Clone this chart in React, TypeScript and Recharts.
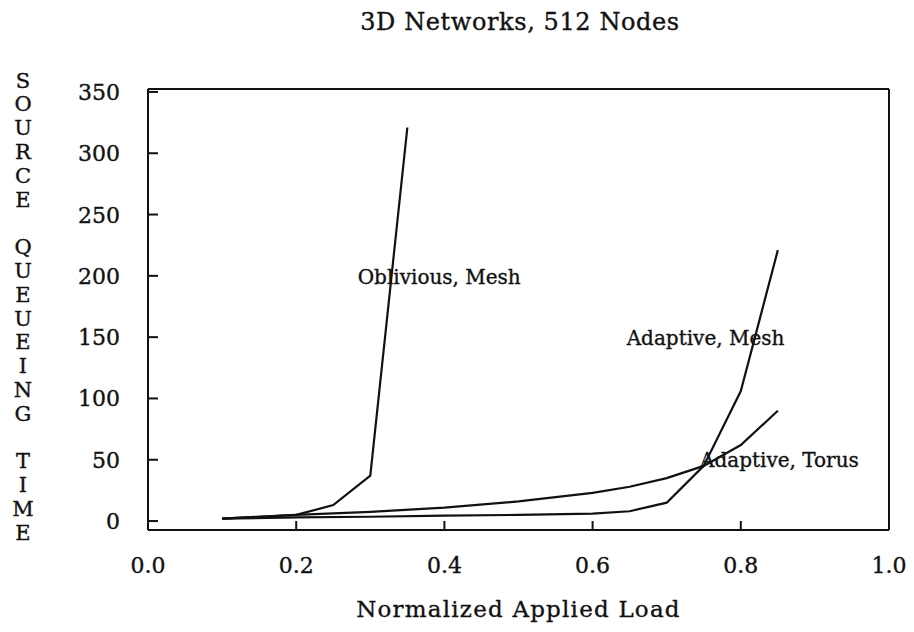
import React from 'react';
import { LineChart, Line, XAxis, YAxis, ReferenceDot } from 'recharts';

// ---- data ----
const oblivMeshLoad = [0.1, 0.2, 0.25, 0.3, 0.35];
const oblivMeshTime = [2, 5, 13, 37, 321];

const adaptMeshLoad = [0.1, 0.2, 0.3, 0.4, 0.5, 0.6, 0.65, 0.7, 0.75, 0.8, 0.85];
const adaptMeshTime = [2, 3, 3.5, 4.5, 5, 6, 8, 15, 45, 106, 221];

const adaptTorusLoad = [0.1, 0.2, 0.3, 0.4, 0.5, 0.6, 0.65, 0.7, 0.75, 0.8, 0.85];
const adaptTorusTime = [2, 5, 7.5, 11, 16, 23, 28, 35, 45, 62, 90];

const xTicks = [0, 0.2, 0.4, 0.6, 0.8, 1.0];
const yTicks = [0, 50, 100, 150, 200, 250, 300, 350];

const annotationText = ['Oblivious, Mesh', 'Adaptive, Mesh', 'Adaptive, Torus'];
const annotationLoad = [0.283, 0.646, 0.745];
const annotationTime = [199, 149, 49.5];

const titleText = '3D Networks, 512 Nodes';
const xLabelText = 'Normalized Applied Load';
const yLabelLines = ['S', 'O', 'U', 'R', 'C', 'E', '', 'Q', 'U', 'E', 'U', 'E', 'I', 'N', 'G', '', 'T', 'I', 'M', 'E'];

const toRows = (xs: number[], ys: number[]) => xs.map((x, i) => ({ load: x, time: ys[i] }));

const FONT = '"DejaVu Serif", "Liberation Serif", serif';
const INK = '#111';
const TXT = { fontFamily: FONT, fill: INK, stroke: INK, strokeWidth: 0.35 } as const;

const YTick = (props: any) => {
  const { x, y, payload } = props;
  return (
    <g>
      <line x1={x} x2={x + 10} y1={y} y2={y} stroke={INK} strokeWidth={2} />
      <text x={x - 28} y={y + 8} textAnchor="end" fontSize={22} {...TXT}>
        {payload.value}
      </text>
    </g>
  );
};

const XTick = (props: any) => {
  const { x, y, payload } = props;
  return (
    <g>
      <line x1={x} x2={x} y1={y} y2={y - 9} stroke={INK} strokeWidth={2} />
      <text x={x} y={y + 43} textAnchor="middle" fontSize={22} {...TXT}>
        {Number(payload.value).toFixed(1)}
      </text>
    </g>
  );
};

export default function App() {
  return (
    <div style={{ position: 'relative', width: 914, height: 632, background: '#fff' }}>
      <style>{'body{margin:0;background:#fff}'}</style>
      <div
        style={{
          position: 'absolute',
          left: 0,
          width: 914,
          top: 8,
          textAlign: 'center',
          fontFamily: FONT,
          fontSize: 24,
          letterSpacing: 0.6,
          color: INK,
          paddingLeft: 126,
          boxSizing: 'border-box',
          WebkitTextStroke: '0.35px #111',
        }}
      >
        {titleText}
      </div>
      <LineChart width={914} height={632} margin={{ top: 88, right: 24, bottom: 101, left: 147 }}>
        <XAxis
          dataKey="load"
          type="number"
          domain={[0, 1]}
          ticks={xTicks}
          tickSize={0}
          tickMargin={0}
          tickLine={false}
          height={1}
          axisLine={{ stroke: INK, strokeWidth: 2 }}
          tick={<XTick />}
          interval={0}
          label={{
            content: (p: any) => {
              const vb = p.viewBox;
              return (
                <text x={vb.x + vb.width / 2} y={617} textAnchor="middle" fontSize={23} letterSpacing={1.2} {...TXT}>
                  {xLabelText}
                </text>
              );
            },
          }}
        />
        <XAxis
          xAxisId="top"
          orientation="top"
          type="number"
          domain={[0, 1]}
          height={1}
          tick={false}
          tickLine={false}
          axisLine={{ stroke: INK, strokeWidth: 2 }}
        />
        <YAxis
          type="number"
          domain={[-7.3, 352.4]}
          ticks={yTicks}
          tickSize={0}
          tickMargin={0}
          tickLine={false}
          width={1}
          axisLine={{ stroke: INK, strokeWidth: 2 }}
          tick={<YTick />}
          interval={0}
          label={{
            content: (p: any) => {
              const vb = p.viewBox;
              const cx = vb.x + vb.width - 125;
              return (
                <g>
                  {yLabelLines.map((ch, i) => (
                    <text key={i} x={cx} y={80 + i * 23.8 + 7.5} textAnchor="middle" fontSize={21} {...TXT}>
                      {ch}
                    </text>
                  ))}
                </g>
              );
            },
          }}
        />
        <YAxis
          yAxisId="right"
          orientation="right"
          type="number"
          domain={[-7.3, 352.4]}
          width={1}
          tick={false}
          tickLine={false}
          axisLine={{ stroke: INK, strokeWidth: 2 }}
        />
        <Line data={toRows(oblivMeshLoad, oblivMeshTime)} dataKey="time" stroke={INK} strokeWidth={2.2} dot={false} isAnimationActive={false} type="linear" />
        <Line data={toRows(adaptMeshLoad, adaptMeshTime)} dataKey="time" stroke={INK} strokeWidth={2.2} dot={false} isAnimationActive={false} type="linear" />
        <Line data={toRows(adaptTorusLoad, adaptTorusTime)} dataKey="time" stroke={INK} strokeWidth={2.2} dot={false} isAnimationActive={false} type="linear" />
        {annotationText.map((t, i) => (
          <ReferenceDot
            key={t}
            x={annotationLoad[i]}
            y={annotationTime[i]}
            r={0}
            fill="none"
            stroke="none"
            label={{
              content: (p: any) => {
                const vb = p.viewBox;
                return (
                  <text x={vb.x} y={vb.y + 7} textAnchor="start" fontSize={20} {...TXT}>
                    {t}
                  </text>
                );
              },
            }}
          />
        ))}
      </LineChart>
    </div>
  );
}
